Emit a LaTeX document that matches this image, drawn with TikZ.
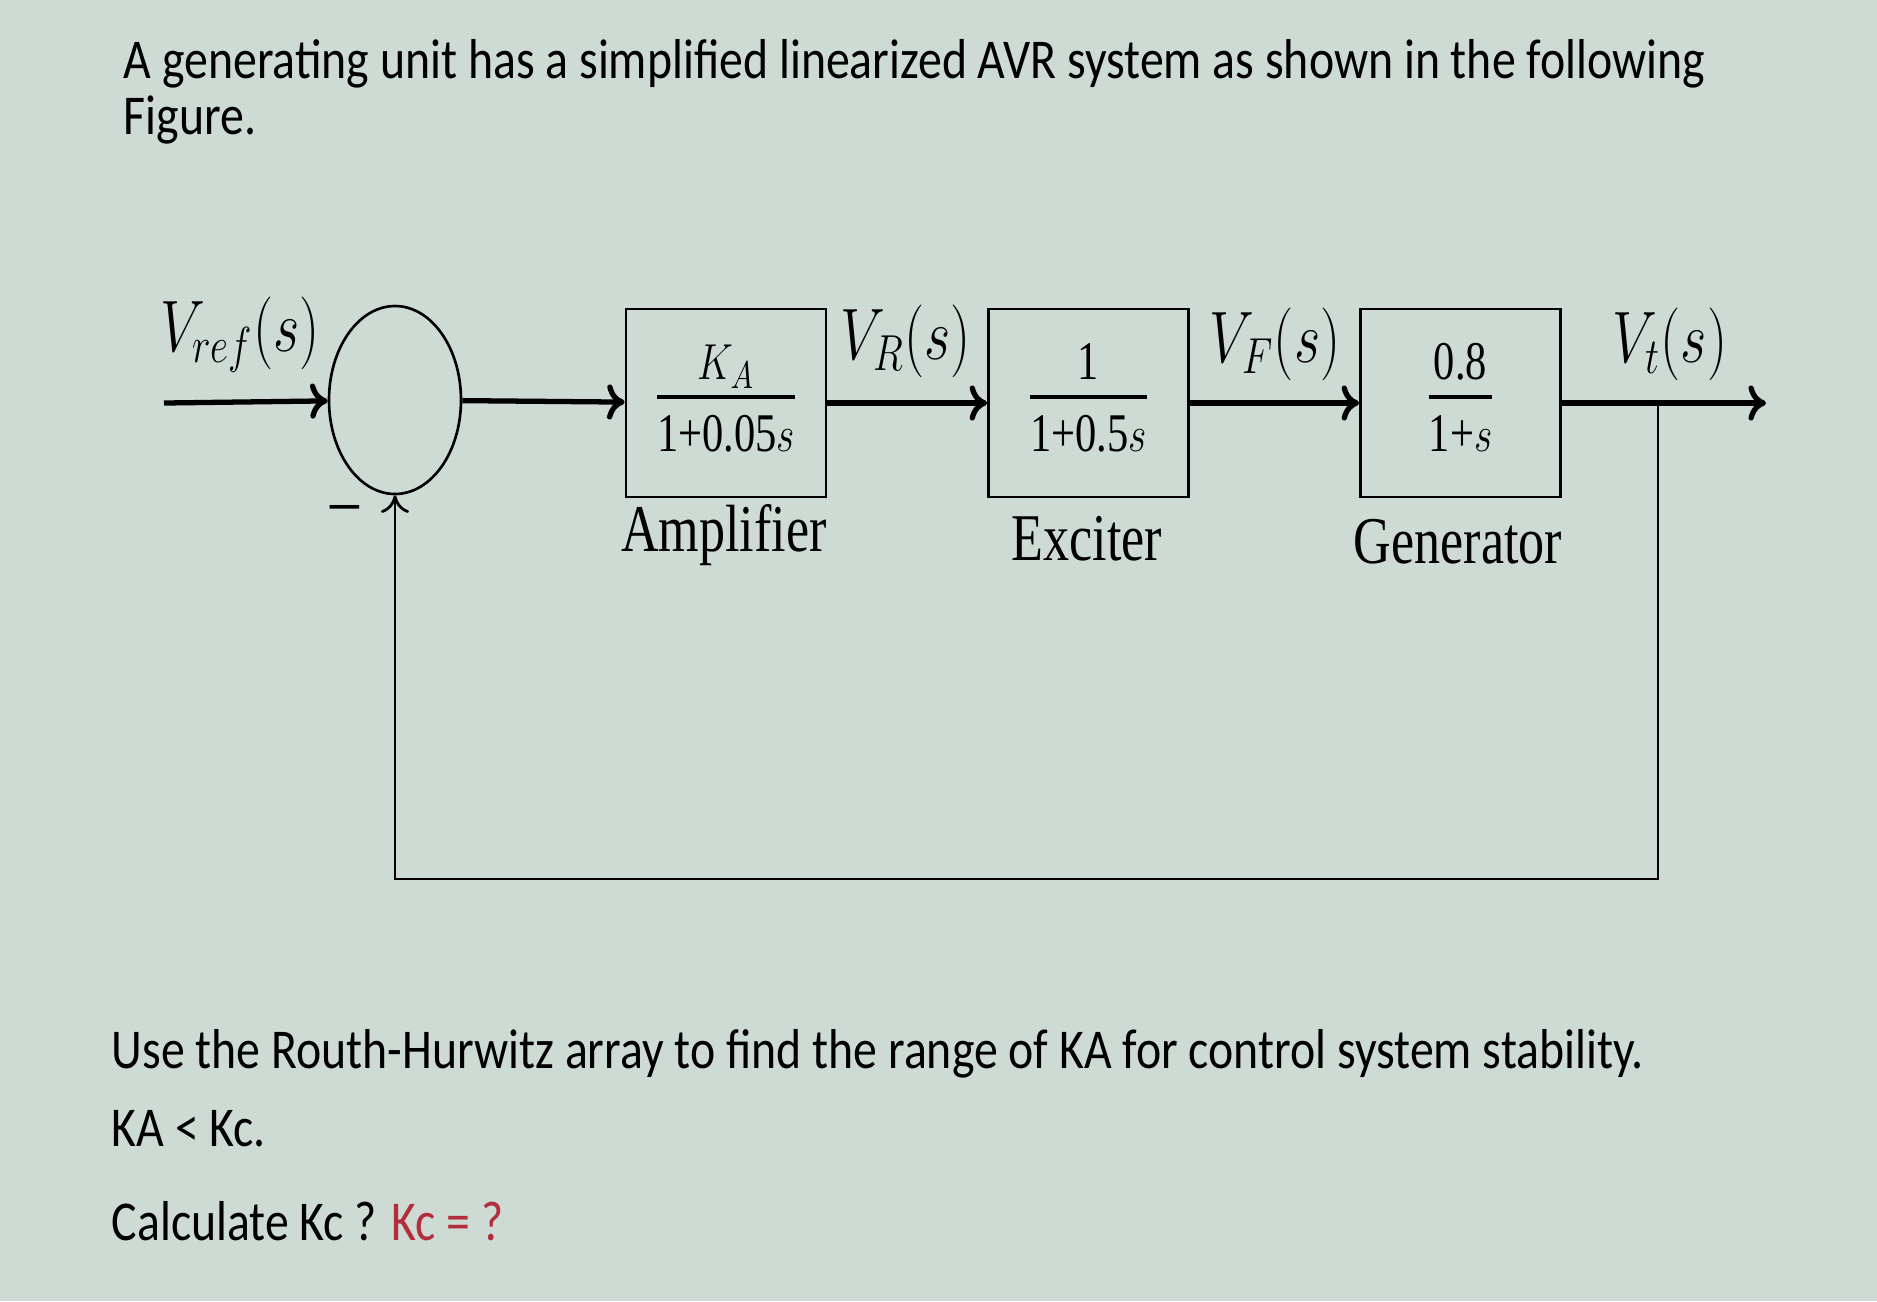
\documentclass[tikz,border=0pt]{standalone}
\usepackage{fontspec}
\setmainfont{Liberation Serif}
\newfontfamily\calib{Carlito}
\usetikzlibrary{shapes.geometric}
\usetikzlibrary{arrows.meta}
\usetikzlibrary{positioning}

\definecolor{screen}{RGB}{206,219,212}
\definecolor{kcred}{RGB}{180,45,60}
% the photo squeezes all letters sideways
\newcommand{\nrw}[1]{\scalebox{0.78}[1]{#1}}
\newcommand{\nrwtxt}[1]{\scalebox{0.85}[1]{#1}}
\newcommand{\blockfrac}[2]{{\setlength{\arrayrulewidth}{1.1pt}\begin{tabular}{@{}c@{}}#1\\[-1pt]\hline\rule{0pt}{15pt}#2\end{tabular}}}

\begin{document}
\begin{tikzpicture}[
  blk/.style={draw, line width=0.75pt, minimum width=2cm, minimum height=1.88cm, inner sep=0pt},
  sig/.style={line width=1.5pt, -{To[length=5pt,width=10pt]}},
  fb/.style={line width=0.8pt, -{To[length=5pt,width=8pt]}},
  lbl/.style={font=\fontsize{21}{24}\selectfont, inner sep=0pt},
  blkname/.style={font=\fontsize{19}{22}\selectfont, inner sep=0pt},
  gain/.style={font=\fontsize{15.5}{18}\selectfont},
  txt/.style={font=\calib\fontsize{16}{19}\selectfont, inner sep=0pt, anchor=west}
]
\fill[screen] (0,0) rectangle (18.77,-13.01);

% question text
\node[txt] (q1) at (1.23,-0.64) {\nrwtxt{A generating unit has a simplified linearized AVR system as shown in the following}};
\node[txt] (q2) at (1.23,-1.20) {\nrwtxt{Figure.}};

% blocks
\node[draw, ellipse, line width=0.75pt, minimum width=1.32cm, minimum height=1.88cm, inner sep=0pt] (sum) at (3.95,-4.0) {};
\node[blk, gain] (amp) at (7.26,-4.03) {\nrw{\blockfrac{$K_A$}{1+0.05$s$}}};
\node[blk, gain] (exc) at (10.885,-4.03) {\nrw{\blockfrac{1}{1+0.5$s$}}};
\node[blk, gain] (gen) at (14.605,-4.03) {\nrw{\blockfrac{0.8}{1+$s$}}};

\node[blkname] (ampname) at (7.24,-5.35) {\nrw{Amplifier}};
\node[blkname] (excname) at (10.87,-5.39) {\nrw{Exciter}};
\node[blkname] (genname) at (14.58,-5.42) {\nrw{Generator}};

% signals
\coordinate (in) at (1.64,-4.03);
\coordinate (br) at (16.58,-4.03);
\coordinate (out) at (17.66,-4.03);
\coordinate (fbend) at (3.95,-8.79);

\draw[sig] (in) -- (sum);
\draw[sig] (sum) -- (amp);
\draw[sig] (amp) -- (exc);
\draw[sig] (exc) -- (gen);
\draw[sig] (gen) -- (out);
\draw[fb] (br) |- (fbend) -- (sum.south);

\node[lbl] (vref) at (2.40,-3.35) {\nrw{$V_{ref}(s)$}};
\node[lbl] (vr) at (9.06,-3.41) {\nrw{$V_R(s)$}};
\node[lbl] (vf) at (12.75,-3.44) {\nrw{$V_F(s)$}};
\node[lbl] (vt) at (16.70,-3.44) {\nrw{$V_t(s)$}};
\node[lbl] (minus) at (3.45,-5.15) {\nrw{--}};

% task text
\node[txt] (q3) at (1.11,-10.54) {\nrwtxt{Use the Routh-Hurwitz array to find the range of KA for control system stability.}};
\node[txt] (q4) at (1.11,-11.29) {\nrwtxt{KA < Kc.}};
\node[txt] (q5) at (1.11,-12.21) {\nrwtxt{Calculate Kc ?}};
\node[txt, text=kcred] (q6) at (3.91,-12.21) {\nrwtxt{Kc = ?}};
\end{tikzpicture}
\end{document}
